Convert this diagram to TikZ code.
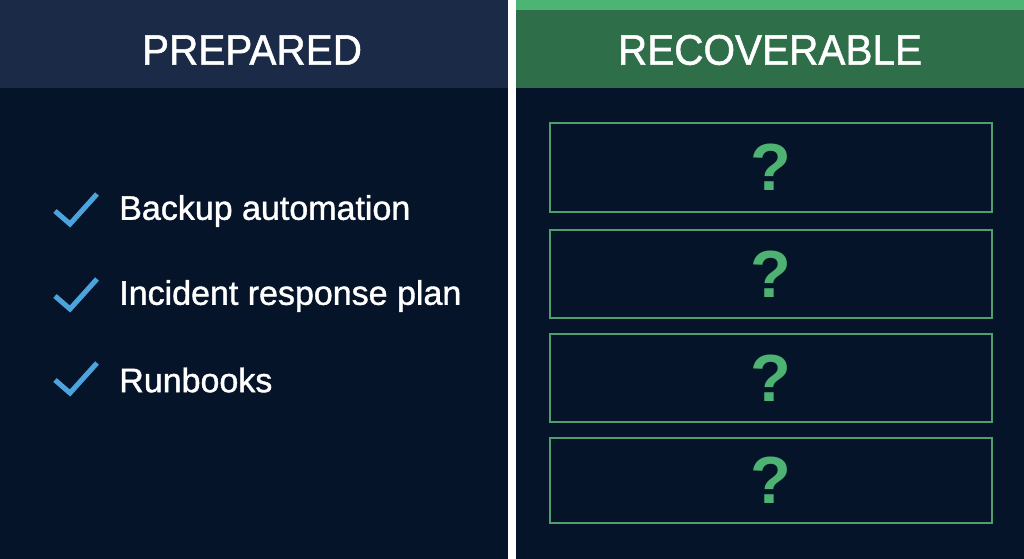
\documentclass[tikz,border=0pt]{standalone}
\usepackage{fontspec}
\setmainfont{Liberation Sans}
\newfontfamily\medfont[FakeBold=1.2]{Liberation Sans}
\usetikzlibrary{calc}
\definecolor{bodybg}{HTML}{061429}
\definecolor{lefthead}{HTML}{1B2A47}
\definecolor{greenhead}{HTML}{2E6E48}
\definecolor{greenstripe}{HTML}{4CB575}
\definecolor{boxline}{HTML}{4E9E6E}
\definecolor{qmark}{HTML}{4DB272}
\definecolor{checkblue}{HTML}{4DA3DC}
\begin{document}
\begin{tikzpicture}[x=0.75pt,y=-0.75pt,
  headtext/.style={text=white,font=\medfont\fontsize{32}{36}\selectfont,anchor=center,inner sep=0pt,xscale=0.95},
  itemtext/.style={text=white,font=\medfont\fontsize{25.5}{30}\selectfont,anchor=west,inner sep=0pt},
  qbox/.style={draw=boxline,line width=1.8pt,minimum width=442*0.75pt,inner sep=0pt,anchor=north west},
  qtext/.style={text=qmark,font=\bfseries\fontsize{50}{56}\selectfont},
  check/.style={draw=checkblue,line width=3.8pt,line cap=butt,line join=miter}]
\useasboundingbox (0,0) rectangle (1024,559);
% backgrounds
\fill[bodybg] (0,0) rectangle (1024,559);
\fill[lefthead] (0,0) rectangle (508,88);
\fill[greenhead] (516,0) rectangle (1024,88);
\fill[greenstripe] (516,0) rectangle (1024,10);
\fill[white] (508,0) rectangle (516,559);
% headers
\node[headtext] (hleft) at (252,50) {PREPARED};
\node[headtext] (hright) at (770,50) {RECOVERABLE};
% left items
\node[itemtext] (i1) at (119,211) {Backup automation};
\node[itemtext] (i2) at (119,296) {Incident response plan};
\node[itemtext] (i3) at (119,380) {Runbooks};
\foreach \y/\n in {212/c1,297/c2,381/c3}{
  \coordinate (\n) at (55,\y);
  \draw[check] ($(\n)+(0,-1)$) -- ++(15,13) -- ++(27,-30);
}
% right boxes
\node[qbox,minimum height=89*0.75pt] (b1) at (549,122) {};
\node[qbox,minimum height=88*0.75pt] (b2) at (549,229) {};
\node[qbox,minimum height=88*0.75pt] (b3) at (549,333) {};
\node[qbox,minimum height=85*0.75pt] (b4) at (549,437) {};
\foreach \b in {b1,b2,b3,b4}{
  \node[qtext] at (\b.center) {?};
}
\end{tikzpicture}
\end{document}
